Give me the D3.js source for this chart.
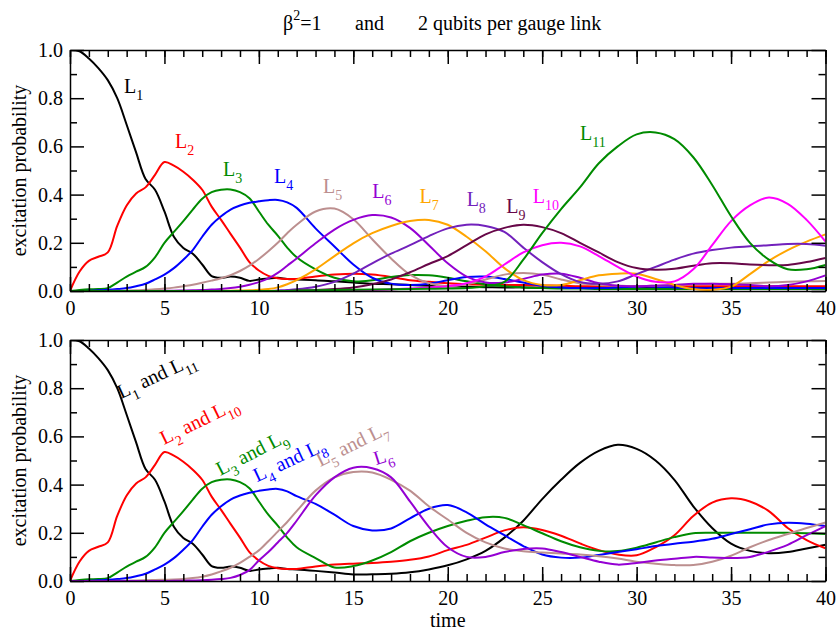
<!DOCTYPE html>
<html><head><meta charset="utf-8">
<script src="https://cdn.jsdelivr.net/npm/d3@7"></script>
<style>
body{margin:0;background:#fff}
text{font-family:"Liberation Serif","Times New Roman",serif}
</style>
</head><body>
<svg id="c" width="837" height="630"></svg>
<script>
// time grid: 0..12 step 0.5, then 13..40 step 1
const time = [0,0.5,1,1.5,2,2.5,3,3.5,4,4.5,5,5.5,6,6.5,7,7.5,8,8.5,9,9.5,10,10.5,11,11.5,12,
  13,14,15,16,17,18,19,20,21,22,23,24,25,26,27,28,29,30,31,32,33,34,35,36,37,38,39,40];

// ---- top panel: one series per link ----
const top_L1 = [1.0,0.995,0.965,0.925,0.875,0.80,0.69,0.575,0.465,0.42,0.33,0.225,0.178,0.155,0.11,0.062,0.055,0.06,0.055,0.042,0.048,0.052,0.055,0.05,0.048,
  0.045,0.04,0.035,0.03,0.028,0.025,0.022,0.02,0.018,0.016,0.015,0.015,0.014,0.014,0.013,0.013,0.012,0.012,0.012,0.012,0.012,0.012,0.012,0.012,0.012,0.012,0.012,0.012];
const top_L2 = [0,0.08,0.125,0.142,0.16,0.27,0.355,0.405,0.43,0.482,0.535,0.52,0.495,0.462,0.42,0.35,0.295,0.237,0.18,0.12,0.085,0.063,0.053,0.05,0.05,
  0.06,0.068,0.072,0.068,0.058,0.045,0.038,0.032,0.028,0.026,0.025,0.025,0.023,0.022,0.02,0.02,0.02,0.02,0.02,0.02,0.02,0.02,0.02,0.02,0.02,0.02,0.02,0.02];
const top_L3 = [0,0.004,0.007,0.008,0.012,0.035,0.06,0.08,0.1,0.14,0.2,0.245,0.29,0.338,0.383,0.41,0.42,0.421,0.41,0.385,0.33,0.275,0.23,0.18,0.14,
  0.09,0.055,0.04,0.045,0.058,0.066,0.065,0.055,0.04,0.028,0.02,0.015,0.012,0.01,0.01,0.008,0.008,0.008,0.008,0.008,0.008,0.008,0.008,0.008,0.008,0.008,0.008,0.008];
const top_L4 = [0,0,0.001,0.003,0.005,0.008,0.012,0.02,0.03,0.048,0.068,0.095,0.13,0.17,0.225,0.275,0.31,0.338,0.355,0.366,0.372,0.377,0.378,0.368,0.345,
  0.26,0.185,0.11,0.055,0.03,0.025,0.03,0.045,0.058,0.06,0.05,0.035,0.022,0.015,0.012,0.012,0.015,0.018,0.018,0.015,0.012,0.012,0.012,0.012,0.012,0.012,0.012,0.012];
const top_L5 = [0,0,0,0,0,0.001,0.002,0.003,0.005,0.007,0.01,0.014,0.02,0.026,0.034,0.043,0.053,0.066,0.083,0.105,0.133,0.165,0.2,0.24,0.275,
  0.33,0.342,0.298,0.215,0.135,0.068,0.032,0.02,0.028,0.048,0.068,0.075,0.068,0.048,0.032,0.025,0.022,0.02,0.022,0.025,0.028,0.03,0.03,0.032,0.035,0.038,0.04,0.042];
const top_L6 = [0,0,0,0,0,0,0,0,0,0,0.001,0.001,0.002,0.003,0.004,0.006,0.008,0.012,0.018,0.026,0.037,0.052,0.075,0.105,0.135,
  0.198,0.255,0.295,0.315,0.305,0.262,0.19,0.115,0.06,0.035,0.035,0.05,0.068,0.072,0.055,0.032,0.022,0.02,0.022,0.025,0.03,0.03,0.028,0.025,0.02,0.025,0.04,0.065];
const top_L7 = [0,0,0,0,0,0,0,0,0,0,0,0,0,0,0,0,0,0.001,0.002,0.003,0.005,0.008,0.015,0.028,0.045,
  0.09,0.145,0.198,0.24,0.27,0.29,0.295,0.275,0.225,0.165,0.095,0.045,0.025,0.025,0.045,0.065,0.072,0.072,0.05,0.025,0.008,0.005,0.018,0.07,0.125,0.17,0.205,0.235];
const top_L8 = [0,0,0,0,0,0,0,0,0,0,0,0,0,0,0,0,0,0,0,0,0,0,0.002,0.004,0.007,
  0.018,0.038,0.072,0.115,0.155,0.19,0.228,0.26,0.275,0.27,0.245,0.18,0.12,0.07,0.037,0.03,0.04,0.07,0.1,0.13,0.155,0.17,0.18,0.186,0.19,0.195,0.195,0.188];
const top_L9 = [0,0,0,0,0,0,0,0,0,0,0,0,0,0,0,0,0,0,0,0,0,0,0,0,0.002,
  0.004,0.008,0.015,0.028,0.048,0.078,0.112,0.145,0.19,0.235,0.262,0.275,0.265,0.24,0.2,0.16,0.12,0.095,0.088,0.092,0.105,0.115,0.115,0.11,0.107,0.108,0.12,0.137];
const top_L10 = [0,0,0,0,0,0,0,0,0,0,0,0,0,0,0,0,0,0,0,0,0,0,0,0,0,
  0.001,0.002,0.003,0.004,0.006,0.01,0.015,0.02,0.032,0.06,0.11,0.16,0.19,0.2,0.185,0.145,0.1,0.06,0.038,0.04,0.09,0.19,0.29,0.355,0.388,0.362,0.295,0.205];
const top_L11 = [0,0,0,0,0,0,0,0,0,0,0,0,0,0,0,0,0,0,0,0,0,0,0,0,0.002,
  0.003,0.004,0.005,0.006,0.007,0.008,0.009,0.01,0.012,0.02,0.038,0.13,0.24,0.34,0.43,0.53,0.6,0.65,0.658,0.63,0.555,0.44,0.31,0.2,0.13,0.09,0.09,0.108];

// ---- bottom panel: symmetric pairs ----
const bot_L1_L11 = [1.0,0.995,0.965,0.925,0.875,0.80,0.69,0.575,0.465,0.42,0.33,0.225,0.178,0.155,0.11,0.062,0.055,0.06,0.055,0.042,0.048,0.052,0.055,0.05,0.048,
  0.042,0.035,0.027,0.028,0.03,0.036,0.048,0.065,0.09,0.125,0.18,0.25,0.34,0.42,0.49,0.54,0.565,0.548,0.5,0.42,0.31,0.22,0.155,0.125,0.115,0.12,0.135,0.15];
const bot_L2_L10 = [0,0.08,0.125,0.142,0.16,0.27,0.355,0.405,0.43,0.482,0.535,0.52,0.495,0.462,0.42,0.35,0.295,0.237,0.18,0.12,0.085,0.063,0.053,0.05,0.05,
  0.06,0.068,0.072,0.075,0.08,0.088,0.102,0.128,0.15,0.18,0.21,0.223,0.212,0.188,0.156,0.128,0.11,0.107,0.14,0.19,0.27,0.325,0.343,0.33,0.29,0.22,0.17,0.136];
const bot_L3_L9 = [0,0.004,0.007,0.008,0.012,0.035,0.06,0.08,0.1,0.14,0.2,0.245,0.29,0.338,0.383,0.41,0.42,0.421,0.41,0.385,0.33,0.275,0.23,0.18,0.14,
  0.095,0.056,0.062,0.085,0.12,0.165,0.2,0.228,0.25,0.265,0.262,0.232,0.198,0.165,0.14,0.125,0.124,0.138,0.16,0.182,0.198,0.2,0.2,0.2,0.2,0.2,0.198,0.195];
const bot_L4_L8 = [0,0,0.001,0.003,0.005,0.008,0.012,0.02,0.03,0.048,0.068,0.095,0.13,0.17,0.225,0.275,0.31,0.338,0.355,0.366,0.374,0.38,0.382,0.372,0.352,
  0.32,0.275,0.228,0.21,0.218,0.26,0.3,0.315,0.285,0.235,0.19,0.145,0.11,0.097,0.097,0.108,0.12,0.132,0.145,0.155,0.163,0.175,0.195,0.215,0.235,0.242,0.238,0.228];
const bot_L5_L7 = [0,0,0,0,0,0.001,0.001,0.002,0.003,0.004,0.005,0.006,0.008,0.012,0.018,0.027,0.04,0.055,0.075,0.1,0.127,0.165,0.205,0.245,0.29,
  0.375,0.43,0.452,0.45,0.42,0.375,0.31,0.255,0.2,0.16,0.135,0.123,0.118,0.114,0.11,0.103,0.093,0.08,0.072,0.066,0.066,0.08,0.105,0.14,0.17,0.195,0.22,0.243];
const bot_L6 = [0,0,0,0,0,0,0,0,0,0,0,0.001,0.001,0.002,0.003,0.005,0.008,0.013,0.025,0.045,0.085,0.12,0.16,0.2,0.25,
  0.355,0.43,0.47,0.468,0.43,0.33,0.225,0.14,0.1,0.1,0.12,0.133,0.135,0.12,0.1,0.08,0.068,0.075,0.085,0.092,0.1,0.098,0.095,0.1,0.122,0.15,0.19,0.228];

const xMajor = [0,5,10,15,20,25,30,35,40];
const xMinor = d3.range(0,41,1);
const yMajor = [0,0.2,0.4,0.6,0.8,1.0];
const yMinor = [0.1,0.3,0.5,0.7,0.9];

const C = {black:"#000000",red:"#ff0000",green:"#008b00",blue:"#0000ff",brown:"#bc8f8f",
  violet:"#9400d3",orange:"#ffa500",indigo:"#7221bc",maroon:"#670748",magenta:"#ff00ff"};

const topSeries = [
  {v:top_L1,c:C.black,lab:["L","1"],t:2.86,p:0.82},
  {v:top_L2,c:C.red,lab:["L","2"],t:5.56,p:0.593},
  {v:top_L3,c:C.green,lab:["L","3"],t:8.1,p:0.477},
  {v:top_L4,c:C.blue,lab:["L","4"],t:10.8,p:0.448},
  {v:top_L5,c:C.brown,lab:["L","5"],t:13.4,p:0.407},
  {v:top_L6,c:C.violet,lab:["L","6"],t:16.0,p:0.386},
  {v:top_L7,c:C.orange,lab:["L","7"],t:18.5,p:0.365},
  {v:top_L8,c:C.indigo,lab:["L","8"],t:21.0,p:0.353},
  {v:top_L9,c:C.maroon,lab:["L","9"],t:23.1,p:0.324},
  {v:top_L10,c:C.magenta,lab:["L","10"],t:24.5,p:0.365},
  {v:top_L11,c:C.green,lab:["L","11"],t:27.0,p:0.627}
];
const botSeries = [
  {v:bot_L1_L11,c:C.black,lab:["L","1"," and L","11"],t:2.7,p:0.755,rot:-25},
  {v:bot_L2_L10,c:C.red,lab:["L","2"," and L","10"],t:4.98,p:0.564,rot:-26},
  {v:bot_L3_L9,c:C.green,lab:["L","3"," and L","9"],t:7.95,p:0.436,rot:-27},
  {v:bot_L4_L8,c:C.blue,lab:["L","4"," and L","8"],t:9.9,p:0.41,rot:-25},
  {v:bot_L5_L7,c:C.brown,lab:["L","5"," and L","7"],t:13.25,p:0.473,rot:-26},
  {v:bot_L6,c:C.violet,lab:["L","6"],t:16.2,p:0.48,rot:-18}
];

const svg = d3.select("#c");
const x = d3.scaleLinear().domain([0,40]).range([70,825.5]);
const FS = 20;

function addLabel(g, s, y) {
  const t = g.append("text")
    .attr("transform", `translate(${x(s.t)},${y(s.p)}) rotate(${s.rot||0})`)
    .attr("fill", s.c).attr("font-size", FS).style("white-space","pre");
  s.lab.forEach((part,i) => {
    const sub = i % 2 === 1;
    t.append("tspan").text(part)
      .attr("font-size", sub ? 14 : FS)
      .attr("dy", i === 0 ? 0 : (sub ? 7 : -7));
  });
}

function panel(yTop, yBot, series, id) {
  const y = d3.scaleLinear().domain([0,1]).range([yBot, yTop]);
  const g = svg.append("g");
  svg.append("clipPath").attr("id", "clip"+id).append("rect")
    .attr("x", x(0)).attr("y", yTop).attr("width", x(40)-x(0)).attr("height", yBot-yTop);
  const line = d3.line().x((d,i)=>x(time[i])).y(d=>y(d)).curve(d3.curveCatmullRom.alpha(0.5));
  const lg = g.append("g").attr("clip-path", `url(#clip${id})`);
  series.forEach(s => {
    lg.append("path").datum(s.v).attr("d", line)
      .attr("fill","none").attr("stroke", s.c).attr("stroke-width", 2).attr("stroke-linejoin","round");
  });
  const styleAx = sel => { sel.attr("font-family", null).attr("font-size", null);
    sel.selectAll("line").attr("stroke","#000").attr("stroke-width",1.5);
    sel.selectAll("path").attr("stroke","#000").attr("stroke-width",1.5);
    sel.selectAll("text").attr("font-size", FS).attr("fill","#000"); };
  g.append("g").attr("transform",`translate(0,${yBot})`)
    .call(d3.axisBottom(x).tickValues(xMinor).tickSize(-7).tickSizeOuter(0).tickFormat(""))
    .call(styleAx).select(".domain").remove();
  g.append("g").attr("transform",`translate(0,${yTop})`)
    .call(d3.axisTop(x).tickValues(xMinor).tickSize(-7).tickSizeOuter(0).tickFormat(""))
    .call(styleAx).select(".domain").remove();
  g.append("g").attr("transform",`translate(${x(0)},0)`)
    .call(d3.axisLeft(y).tickValues(yMinor).tickSize(-7).tickSizeOuter(0).tickFormat(""))
    .call(styleAx).select(".domain").remove();
  g.append("g").attr("transform",`translate(${x(40)},0)`)
    .call(d3.axisRight(y).tickValues(yMinor).tickSize(-7).tickSizeOuter(0).tickFormat(""))
    .call(styleAx).select(".domain").remove();
  g.append("g").attr("transform",`translate(0,${yBot})`)
    .call(d3.axisBottom(x).tickValues(xMajor).tickSize(-14).tickSizeOuter(0).tickPadding(10).tickFormat(d3.format("d")))
    .call(styleAx);
  g.append("g").attr("transform",`translate(0,${yTop})`)
    .call(d3.axisTop(x).tickValues(xMajor).tickSize(-14).tickSizeOuter(0).tickFormat(""))
    .call(styleAx);
  g.append("g").attr("transform",`translate(${x(0)},0)`)
    .call(d3.axisLeft(y).tickValues(yMajor).tickSize(-14).tickSizeOuter(0).tickPadding(7).tickFormat(d3.format(".1f")))
    .call(styleAx);
  g.append("g").attr("transform",`translate(${x(40)},0)`)
    .call(d3.axisRight(y).tickValues(yMajor).tickSize(-14).tickSizeOuter(0).tickFormat(""))
    .call(styleAx);
  svg.append("text").attr("transform",`translate(26,${(yTop+yBot)/2}) rotate(-90)`)
    .attr("text-anchor","middle").attr("font-size",FS).text("excitation probability");
  series.forEach(s => addLabel(svg, s, y));
}

panel(50, 291, topSeries, 1);
panel(340, 581, botSeries, 2);

svg.append("text").attr("x", x(20)).attr("y", 627).attr("text-anchor","middle")
  .attr("font-size", FS).text("time");

const title = svg.append("text").attr("x", 283).attr("y", 30).attr("font-size", FS);
title.append("tspan").text("β");
title.append("tspan").text("2").attr("font-size", 14).attr("dy", -10);
title.append("tspan").text("=1").attr("dy", 10);
svg.append("text").attr("x", 355).attr("y", 30).attr("font-size", FS).text("and");
svg.append("text").attr("x", 418).attr("y", 30).attr("font-size", FS).text("2 qubits per gauge link");
</script>
</body></html>
